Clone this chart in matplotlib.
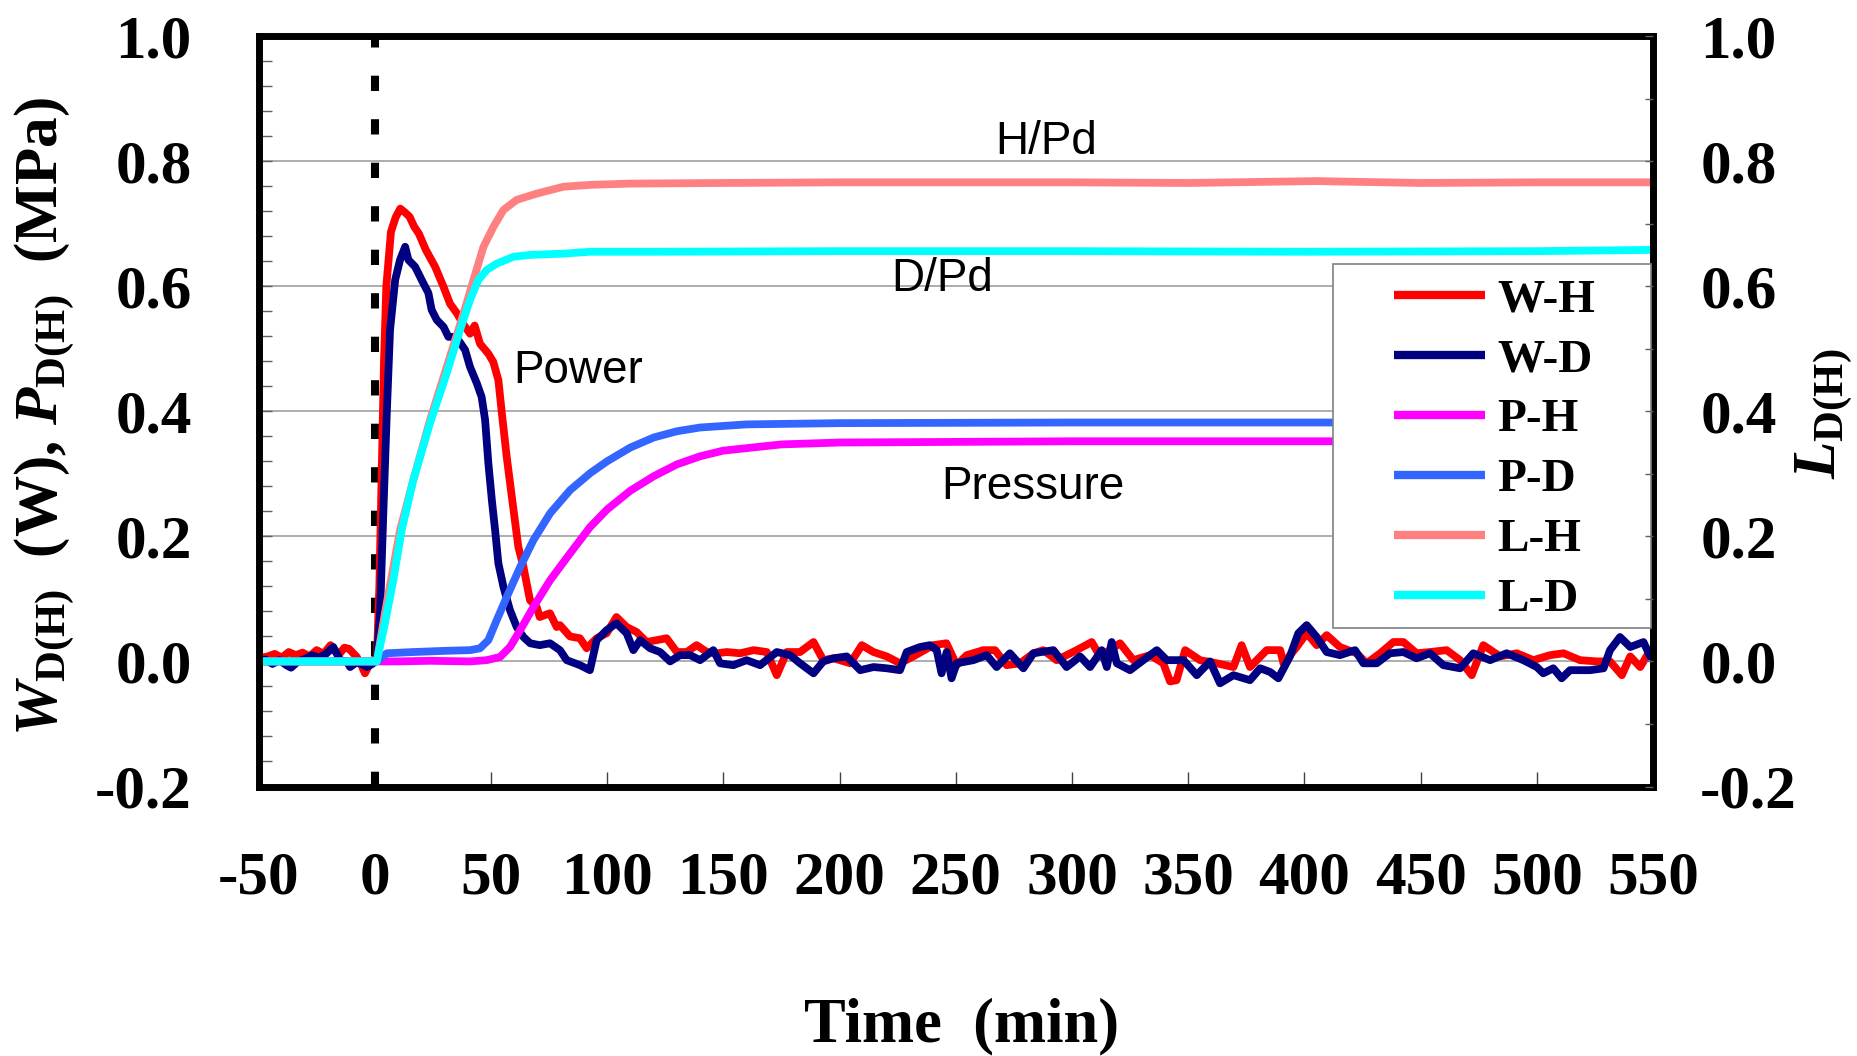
import matplotlib
matplotlib.use("Agg")
import matplotlib.pyplot as plt
from matplotlib.patches import Rectangle

plt.rcParams['axes.unicode_minus'] = False
plt.rcParams['mathtext.fontset'] = 'custom'
plt.rcParams['mathtext.rm'] = 'Liberation Serif:bold'
plt.rcParams['mathtext.it'] = 'Liberation Serif:italic:bold'
plt.rcParams['mathtext.bf'] = 'Liberation Serif:bold'

# ---------------- data ----------------
t_wh = [-50, -46, -43, -40, -37, -34, -31, -28, -25, -22, -19, -17, -15, -13, -11, -9, -7.7, -5.5, -4.2, -2, 0,
        1, 2, 3, 4, 5, 7, 9, 11, 13, 15, 17, 19, 22, 26, 29.6, 32.4, 35.3, 38, 41, 43, 45.3, 48.9, 51, 53.2,
        54.7, 56.8, 59, 61.8, 64, 66.8, 69.7, 71, 74, 75.4, 78.3, 79.7, 84, 88.3, 91.2, 95.5, 99.8, 104, 108.4,
        112.7, 117, 121.3, 125.6, 130, 134.3, 138.5, 142.9, 147.2, 151.5, 157.2, 163, 168.7, 173, 177.3, 183,
        188.8, 193, 197.4, 204.6, 209.6, 214.6, 220.3, 226, 231.7, 240.3, 246, 250.4, 254.7, 261.9, 266.9,
        271.9, 277.7, 283.4, 287.7, 293.4, 302, 308.5, 312.1, 320.7, 326.4, 333.6, 339.3, 342.2, 345, 348.7,
        355.1, 362.3, 369.5, 373, 376.6, 383.8, 389.6, 391, 396.7, 401, 405.3, 409.6, 415.3, 422.5, 426.8,
        432.6, 438.3, 442.6, 448.3, 454, 461.2, 467, 472, 477, 484.2, 491.4, 498.5, 505.7, 511.5, 518.6,
        525.8, 531.5, 536.6, 540.2, 544.5, 548.8, 550]
w_h = [0.005, 0.008, 0.012, 0.006, 0.015, 0.010, 0.014, 0.008, 0.018, 0.012, 0.026, 0.016, 0.013, 0.022, 0.020,
       0.012, 0.007, -0.008, -0.019, -0.003, 0.000,
       0.010, 0.120, 0.300, 0.480, 0.600, 0.687, 0.710, 0.724, 0.718, 0.711, 0.695, 0.684, 0.658, 0.631, 0.599,
       0.572, 0.557, 0.540, 0.524, 0.537, 0.508, 0.492, 0.479, 0.450, 0.397, 0.327, 0.263, 0.183, 0.151, 0.098,
       0.087, 0.071, 0.075, 0.077, 0.055, 0.058, 0.040, 0.037, 0.021, 0.037, 0.045, 0.071, 0.055, 0.047, 0.031,
       0.034, 0.037, 0.015, 0.015, 0.026, 0.015, 0.013, 0.015, 0.013, 0.018, 0.015, -0.022, 0.015, 0.015, 0.031,
       0.002, 0.005, -0.003, 0.026, 0.015, 0.008, -0.003, 0.008, 0.026, 0.029, -0.006, 0.010, 0.018, 0.018,
       -0.006, -0.003, 0.013, 0.018, 0.002, 0.018, 0.031, 0.008, 0.029, 0.002, 0.010, -0.003, -0.032, -0.030,
       0.018, 0.002, -0.003, -0.009, 0.026, -0.009, 0.018, 0.018, -0.003, 0.023, 0.045, 0.026, 0.042, 0.023,
       0.013, -0.003, 0.013, 0.031, 0.031, 0.013, 0.015, 0.018, 0.002, -0.022, 0.026, 0.008, 0.013, 0.002,
       0.010, 0.013, 0.002, 0.000, 0.000, -0.022, 0.008, -0.009, 0.018, 0.010]

t_wd = [-50, -47, -44, -41, -38, -36, -33, -30, -27, -24, -21, -17.8, -14.9, -12, -10.6, -8, -6.3, -3.4, -1, 0,
        0.9, 2.3, 3.7, 5.2, 6.6, 8.8, 10.9, 13.1, 14.5, 17.4, 20.2, 23.1, 24.5, 26.7, 29.6, 31.7, 34.6, 36.7,
        38.9, 41, 43.9, 46, 47.5, 48.9, 50.4, 51.8, 53.2, 55.4, 58.2, 61.1, 64, 66.9, 71, 75.4, 79.7, 82.6,
        88.3, 92.6, 95.5, 99.8, 104, 108.4, 111.3, 114.2, 118.5, 122.8, 127.1, 131.4, 135.7, 140, 145.7, 148.6,
        154.3, 160, 165.8, 173, 178.7, 183, 188.8, 193, 197.4, 203.1, 208.9, 214.6, 220.3, 226, 228.9, 234.6,
        238.9, 241.8, 243.9, 246.1, 248.2, 250.4, 257.6, 263.3, 267.6, 273.3, 279.1, 283.4, 292, 297.7, 303.5,
        307.8, 312.8, 315, 317.1, 319.3, 325, 330.7, 336.5, 340.8, 348, 353.7, 359.4, 363.7, 369.5, 376.6,
        381, 385.3, 388.8, 393.8, 397.4, 401, 405.3, 409.6, 415.3, 421.8, 425.4, 431.1, 436.8, 442.6, 448.3,
        454, 459.8, 467, 472.7, 479.9, 487, 494.2, 500, 502.8, 507.1, 510.7, 514.3, 522.9, 528.7, 531.5,
        535.8, 540.2, 545.9, 548.8, 550]
w_d = [0.000, 0.003, -0.004, 0.002, -0.006, -0.010, 0.000, 0.004, 0.010, 0.006, 0.012, 0.023, 0.002, 0.000,
       -0.009, -0.002, -0.003, -0.009, -0.004, 0.000,
       0.002, 0.077, 0.237, 0.397, 0.530, 0.610, 0.642, 0.663, 0.642, 0.631, 0.610, 0.589, 0.562, 0.546, 0.535,
       0.519, 0.519, 0.510, 0.498, 0.471, 0.445, 0.423, 0.386, 0.317, 0.258, 0.210, 0.157, 0.119, 0.082, 0.055,
       0.039, 0.029, 0.026, 0.029, 0.018, 0.002, -0.006, -0.014, 0.034, 0.050, 0.061, 0.045, 0.018, 0.034,
       0.021, 0.015, 0.000, 0.010, 0.010, 0.002, 0.018, -0.003, -0.006, 0.002, -0.006, 0.015, 0.010, -0.003,
       -0.019, 0.000, 0.005, 0.008, -0.014, -0.009, -0.011, -0.014, 0.015, 0.023, 0.026, 0.018, -0.019, 0.015,
       -0.027, -0.003, 0.002, 0.010, -0.009, 0.013, -0.011, 0.013, 0.018, -0.009, 0.008, -0.009, 0.018,
       -0.009, 0.031, -0.003, -0.014, 0.002, 0.018, 0.002, 0.002, -0.022, 0.000, -0.035, -0.022, -0.030,
       -0.011, -0.017, -0.027, 0.008, 0.045, 0.058, 0.039, 0.015, 0.010, 0.018, -0.003, -0.003, 0.013, 0.015,
       0.005, 0.013, -0.006, -0.011, 0.013, 0.002, 0.013, 0.002, -0.009, -0.019, -0.011, -0.027, -0.014,
       -0.014, -0.011, 0.018, 0.039, 0.023, 0.031, 0.008, 0.015]

t_ph = [-50, 0, 9.5, 23.8, 41, 48.2, 53.9, 58.2, 62.6, 68.3, 75.5, 84.1, 92.7, 100, 110, 120, 130, 140, 150,
        175, 200, 300, 400, 550]
p_h = [0.0, 0.0, 0.0, 0.001, 0.0, 0.002, 0.007, 0.023, 0.050, 0.087, 0.130, 0.173, 0.215, 0.243, 0.273, 0.296,
       0.315, 0.328, 0.337, 0.347, 0.350, 0.352, 0.352, 0.352]

t_pd = [-50, 0, 0.9, 5.2, 16.6, 31, 41, 45.3, 48.9, 52.5, 56.8, 62.6, 68.3, 75.5, 84.1, 92.7, 100, 110, 120,
        130, 140, 160, 200, 300, 400, 550]
p_d = [0.0, 0.0, 0.0, 0.013, 0.015, 0.017, 0.018, 0.021, 0.034, 0.066, 0.103, 0.151, 0.194, 0.237, 0.274, 0.301,
       0.320, 0.342, 0.358, 0.368, 0.374, 0.379, 0.381, 0.382, 0.382, 0.382]

t_lh = [-50, 0, 0.9, 4.4, 10.9, 16.6, 23.8, 31, 38.2, 42.5, 46.8, 51.1, 55.4, 61.1, 69.7, 81.2, 92.7, 110, 150,
        200, 250, 300, 350, 405, 450, 500, 550]
l_h = [0.0, 0.0, 0.0, 0.077, 0.210, 0.290, 0.386, 0.471, 0.556, 0.610, 0.663, 0.695, 0.722, 0.738, 0.748, 0.759,
       0.762, 0.764, 0.765, 0.766, 0.766, 0.766, 0.765, 0.768, 0.765, 0.766, 0.766]

t_ld = [-50, 0, 0.9, 4.4, 8, 11.6, 16.6, 23.8, 31, 36.7, 41, 44.6, 48.2, 52.5, 59.7, 66.9, 81.2, 92.7, 120, 200,
        300, 400, 500, 550]
l_d = [0.0, 0.0, 0.0, 0.061, 0.130, 0.210, 0.290, 0.381, 0.461, 0.530, 0.578, 0.610, 0.626, 0.636, 0.647, 0.650,
       0.652, 0.655, 0.655, 0.656, 0.656, 0.655, 0.656, 0.658]

series_labels = ["W-H", "W-D", "P-H", "P-D", "L-H", "L-D"]
x_ticks = [-50, 0, 50, 100, 150, 200, 250, 300, 350, 400, 450, 500, 550]
x_ticklabels = ["-50", "0", "50", "100", "150", "200", "250", "300", "350", "400", "450", "500", "550"]
y_ticks = [-0.2, 0.0, 0.2, 0.4, 0.6, 0.8, 1.0]
y_ticklabels = ["-0.2", "0.0", "0.2", "0.4", "0.6", "0.8", "1.0"]
annotations = [("H/Pd", 289, 0.830), ("D/Pd", 244, 0.611), ("Power", 87.5, 0.465), ("Pressure", 283, 0.279)]

# ---------------- figure ----------------
W, H = 1857, 1056
fig = plt.figure(figsize=(W / 100, H / 100), dpi=100)
L, R, T, B = 258.5, 1653, 36, 786.5
ax = fig.add_axes([L / W, 1 - B / H, (R - L) / W, (B - T) / H])
ax.set_xlim(-50, 550)
ax.set_ylim(-0.2, 1.0)

serif_bold = dict(family='Liberation Serif', weight='bold')

colors = ['#FF0000', '#000080', '#FF00FF', '#3366FF', '#FF8080', '#00FFFF']
lw = 5.6
data = [(t_wh, w_h), (t_wd, w_d), (t_ph, p_h), (t_pd, p_d), (t_lh, l_h), (t_ld, l_d)]
handles = []
for (tx, vy), c, lab in zip(data, colors, series_labels):
    ln, = ax.plot(tx, vy, color=c, lw=lw, solid_joinstyle='round', solid_capstyle='round', label=lab, zorder=3)
    handles.append(ln)

ax.axvline(0, color='black', lw=5.8, dashes=(1.9, 3.5), dash_capstyle='butt', zorder=2)

# grid & ticks
for yv in [0.0, 0.2, 0.4, 0.6, 0.8]:
    ax.axhline(yv, color='#A0A0A0', lw=1.2, zorder=1)
ax.set_xticks(x_ticks)
ax.set_xticklabels(x_ticklabels, fontdict=dict(size=44, **serif_bold))
ax.set_yticks(y_ticks)
ax.set_yticklabels(y_ticklabels, fontdict=dict(size=44, **serif_bold))
ax.set_yticks([v / 100 for v in range(-20, 101, 4)], minor=True)
ax.tick_params(axis='x', direction='in', length=11, width=1.0, color='#404040', pad=46, top=False)
ax.tick_params(axis='y', which='both', direction='in', length=9, width=1.0, color='#606060', pad=48, right=False)

for sp in ax.spines.values():
    sp.set_linewidth(5.0)
    sp.set_color('black')
    sp.set_zorder(6)

ax2 = ax.twinx()
ax2.set_ylim(-0.2, 1.0)
ax2.set_yticks(y_ticks)
ax2.set_yticklabels(y_ticklabels, fontdict=dict(size=44, **serif_bold))
ax2.set_yticks([v / 10 for v in range(-2, 11)], minor=True)
ax2.tick_params(axis='y', which='both', direction='in', length=6, width=1.0, color='#606060', pad=34)
for sp in ax2.spines.values():
    sp.set_visible(False)

# annotations
for txt, xx, yy in annotations:
    ax.text(xx, yy, txt, fontsize=33, family='Liberation Sans', ha='center', va='center', zorder=4)

# legend box
x0 = (1333 - L) / (R - L)
x1 = (1651 - L) / (R - L)
y1 = (B - 264) / (B - T)
y0 = (B - 628) / (B - T)
ax.add_patch(Rectangle((x0, y0), x1 - x0, y1 - y0, transform=ax.transAxes, facecolor='white',
                       edgecolor='#808080', lw=1.2, zorder=8))
leg = ax.legend(handles=handles, labels=series_labels, loc='upper left',
                bbox_to_anchor=(1394 / W, 1 - 278 / H), bbox_transform=fig.transFigure,
                frameon=False, borderpad=0, borderaxespad=0, handlelength=1.93, handletextpad=0.25,
                labelspacing=0.36, prop=dict(size=34, **serif_bold))
leg.set_zorder(9)
for lh in leg.get_lines():
    lh.set_linewidth(6)
    lh.set_solid_capstyle('butt')

# axis labels
fig.text(962 / W, 1 - 1026 / H, "Time  (min)", ha='center', va='center', fontsize=45, **serif_bold)
fig.text(44 / W, 1 - 417 / H, r"$W_{\mathrm{D(H)}}$  (W), $P_{\mathrm{D(H)}}$  (MPa)", rotation=90,
         ha='center', va='center', fontsize=44, **serif_bold)
fig.text(1824 / W, 1 - 414 / H, r"$L_{\mathrm{D(H)}}$", rotation=90, ha='center', va='center',
         fontsize=44, **serif_bold)

fig.savefig("out.png", dpi=100, facecolor='white')
